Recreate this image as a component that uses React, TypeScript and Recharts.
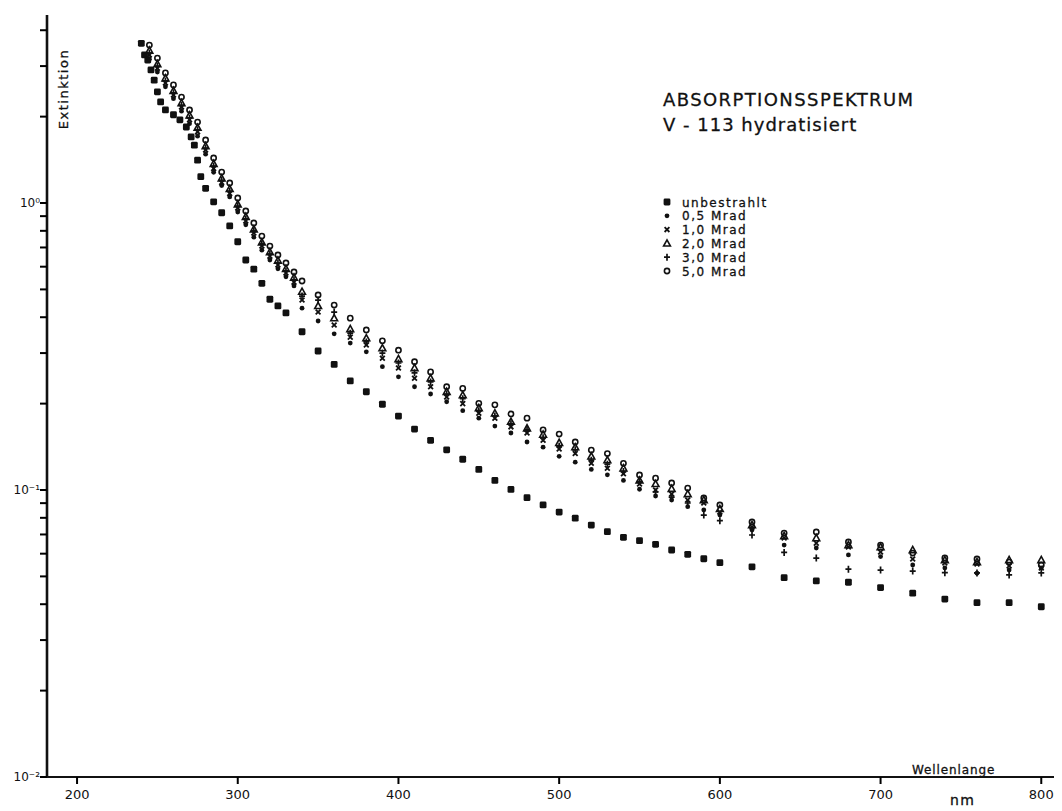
import React from 'react';
import { ScatterChart, Scatter, XAxis, YAxis } from 'recharts';

// Wellenlängen (nm)
const WL_UNBESTRAHLT = [
  240, 242, 244, 246, 248, 250, 252, 255, 260, 264, 268, 271, 273, 275, 277, 280, 285, 290, 295, 300,
  305, 310, 315, 320, 325, 330, 340, 350, 360, 370, 380, 390, 400, 410, 420, 430, 440, 450, 460, 470,
  480, 490, 500, 510, 520, 530, 540, 550, 560, 570, 580, 590, 600, 620, 640, 660, 680, 700, 720, 740,
  760, 780, 800,
];
const WL_BESTRAHLT = [
  245, 250, 255, 260, 265, 270, 275, 280, 285, 290, 295, 300, 305, 310, 315, 320, 325, 330, 335,
  340, 350, 360, 370, 380, 390, 400, 410, 420, 430, 440, 450, 460, 470, 480, 490, 500, 510, 520, 530,
  540, 550, 560, 570, 580, 590, 600, 620, 640, 660, 680, 700, 720, 740, 760, 780, 800,
];

// Extinktion
const UNBESTRAHLT = [
  3.6, 3.28, 3.15, 2.91, 2.68, 2.44, 2.25, 2.11, 2.03, 1.95, 1.84, 1.7, 1.59, 1.41, 1.235, 1.125, 1.01,
  0.925, 0.832, 0.733, 0.633, 0.588, 0.525, 0.462, 0.438, 0.414, 0.356, 0.305, 0.274, 0.24, 0.22,
  0.199, 0.181, 0.163, 0.149, 0.138, 0.128, 0.118, 0.108, 0.1005, 0.094, 0.0887, 0.0838, 0.0798,
  0.0755, 0.0716, 0.0684, 0.0666, 0.0647, 0.0618, 0.0597, 0.0576, 0.0558, 0.054, 0.0495, 0.0482,
  0.0477, 0.0457, 0.0437, 0.0417, 0.0405, 0.0405, 0.0392,
];
const MRAD_05 = [
  3.17, 2.86, 2.54, 2.31, 2.09, 1.89, 1.71, 1.48, 1.28, 1.15, 1.05, 0.93, 0.84, 0.76, 0.685, 0.633,
  0.59, 0.553, 0.514, 0.43, 0.388, 0.35, 0.325, 0.303, 0.269, 0.248, 0.229, 0.216, 0.203, 0.189,
  0.178, 0.167, 0.158, 0.147, 0.141, 0.131, 0.125, 0.118, 0.113, 0.108, 0.1006, 0.0953, 0.0923,
  0.0875, 0.0852, 0.0818, 0.0726, 0.0643, 0.0628, 0.0594, 0.0586, 0.0548, 0.0535, 0.0513, 0.0526,
  0.0535,
];
const MRAD_10 = [
  3.28, 2.95, 2.62, 2.38, 2.16, 1.95, 1.77, 1.53, 1.32, 1.18, 1.08, 0.96, 0.866, 0.786, 0.708, 0.653,
  0.608, 0.57, 0.53, 0.459, 0.417, 0.376, 0.341, 0.32, 0.288, 0.266, 0.245, 0.229, 0.211, 0.2, 0.185,
  0.178, 0.166, 0.158, 0.149, 0.139, 0.134, 0.124, 0.119, 0.114, 0.105, 0.1, 0.0968, 0.0923, 0.0901,
  0.0838, 0.0743, 0.068, 0.0653, 0.0633, 0.0608, 0.0575, 0.0557, 0.0552, 0.0544, 0.0535,
];
const MRAD_20 = [
  3.4, 3.05, 2.72, 2.46, 2.23, 2.02, 1.83, 1.58, 1.37, 1.22, 1.12, 0.99, 0.895, 0.81, 0.73, 0.675,
  0.63, 0.59, 0.55, 0.491, 0.438, 0.397, 0.364, 0.338, 0.312, 0.286, 0.266, 0.245, 0.22, 0.214,
  0.193, 0.185, 0.173, 0.164, 0.156, 0.146, 0.141, 0.131, 0.127, 0.119, 0.108, 0.105, 0.101, 0.0968,
  0.0923, 0.0859, 0.0755, 0.0691, 0.068, 0.0643, 0.0633, 0.0618, 0.057, 0.0561, 0.057, 0.057,
];
const MRAD_30 = [
  3.33, 3.0, 2.66, 2.42, 2.19, 1.98, 1.8, 1.555, 1.345, 1.2, 1.1, 0.976, 0.88, 0.8, 0.72, 0.664,
  0.618, 0.58, 0.54, 0.474, 0.459, 0.417, 0.352, 0.328, 0.3, 0.277, 0.256, 0.238, 0.216, 0.208,
  0.189, 0.181, 0.17, 0.162, 0.152, 0.142, 0.138, 0.127, 0.123, 0.116, 0.107, 0.0984, 0.0945, 0.0901,
  0.0818, 0.0782, 0.0697, 0.0606, 0.0579, 0.053, 0.0526, 0.0522, 0.0515, 0.0514, 0.0506, 0.0514,
];
const MRAD_50 = [
  3.55, 3.2, 2.84, 2.58, 2.34, 2.11, 1.915, 1.658, 1.435, 1.282, 1.174, 1.041, 0.938, 0.852, 0.767,
  0.708, 0.659, 0.618, 0.575, 0.535, 0.478, 0.441, 0.397, 0.361, 0.331, 0.307, 0.28, 0.258, 0.229,
  0.226, 0.2005, 0.198, 0.184, 0.178, 0.162, 0.1567, 0.147, 0.1378, 0.134, 0.1239, 0.1128, 0.11,
  0.1058, 0.1016, 0.0938, 0.0887, 0.0774, 0.0708, 0.0714, 0.0659, 0.0643, 0.0603, 0.058, 0.0575,
  0.0561, 0.0548,
];

const X_TICKS = [200, 300, 400, 500, 600, 700, 800];
const Y_TICKS = [
  0.01, 0.02, 0.03, 0.04, 0.05, 0.06, 0.07, 0.08, 0.09,
  0.1, 0.2, 0.3, 0.4, 0.5, 0.6, 0.7, 0.8, 0.9,
  1, 2, 3, 4,
];
const DECADE_LABELS: Record<string, string> = { '-2': '10⁻²', '-1': '10⁻¹', '0': '10⁰' };

const FONT = "'DejaVu Sans', sans-serif";
const INK = '#111';

const toPoints = (xs: number[], ys: number[]) => xs.map((x, i) => ({ x, y: ys[i] }));

const decadeLabel = (v: number) => {
  const exp = Math.round(Math.log10(v));
  if (Math.abs(Math.log10(v) - exp) > 1e-6) return '';
  return DECADE_LABELS[String(exp)] ?? '';
};

type P = { cx?: number; cy?: number };

const Square = ({ cx = 0, cy = 0 }: P) => (
  <rect x={cx - 3.4} y={cy - 3.4} width={6.8} height={6.8} rx={1.4} fill={INK} />
);
const Dot = ({ cx = 0, cy = 0 }: P) => <circle cx={cx} cy={cy} r={2.4} fill={INK} />;
const Cross = ({ cx = 0, cy = 0 }: P) => (
  <path
    d={`M${cx - 2.4},${cy - 2.4}L${cx + 2.4},${cy + 2.4}M${cx + 2.4},${cy - 2.4}L${cx - 2.4},${cy + 2.4}`}
    stroke={INK}
    strokeWidth={1.8}
    fill="none"
  />
);
const Triangle = ({ cx = 0, cy = 0 }: P) => (
  <path
    d={`M${cx},${cy - 3.6}L${cx + 3.4},${cy + 2.6}L${cx - 3.4},${cy + 2.6}Z`}
    stroke={INK}
    strokeWidth={1.6}
    fill="none"
  />
);
const Plus = ({ cx = 0, cy = 0 }: P) => (
  <path
    d={`M${cx - 3},${cy}L${cx + 3},${cy}M${cx},${cy - 3.5}L${cx},${cy + 3.5}`}
    stroke={INK}
    strokeWidth={1.7}
    fill="none"
  />
);
const Ring = ({ cx = 0, cy = 0 }: P) => (
  <circle cx={cx} cy={cy} r={2.6} stroke={INK} strokeWidth={1.6} fill="none" />
);

const SERIES = [
  { name: 'unbestrahlt', wl: WL_UNBESTRAHLT, values: UNBESTRAHLT, Shape: Square },
  { name: '0,5 Mrad', wl: WL_BESTRAHLT, values: MRAD_05, Shape: Dot },
  { name: '1,0 Mrad', wl: WL_BESTRAHLT, values: MRAD_10, Shape: Cross },
  { name: '2,0 Mrad', wl: WL_BESTRAHLT, values: MRAD_20, Shape: Triangle },
  { name: '3,0 Mrad', wl: WL_BESTRAHLT, values: MRAD_30, Shape: Plus },
  { name: '5,0 Mrad', wl: WL_BESTRAHLT, values: MRAD_50, Shape: Ring },
];

export default function App() {
  return (
    <div style={{ position: 'relative', width: 1054, height: 803, background: '#fff' }}>
      <ScatterChart width={1054} height={803} margin={{ top: 7, right: 0, bottom: 0, left: 0 }}>
        <XAxis
          type="number"
          dataKey="x"
          domain={[181.3, 812.9]}
          allowDataOverflow
          ticks={X_TICKS}
          interval={0}
          height={34}
          tickSize={7}
          tickMargin={6}
          tickLine={{ stroke: '#000', strokeWidth: 2 }}
          axisLine={{ stroke: INK, strokeWidth: 2.2 }}
          tick={{ fill: INK, fontSize: 13, fontFamily: FONT }}
        />
        <YAxis
          type="number"
          dataKey="y"
          scale="log"
          domain={[0.01, 4.52]}
          allowDataOverflow
          ticks={Y_TICKS}
          interval={0}
          width={39}
          tickSize={7}
          tickMargin={0}
          tickLine={{ stroke: '#000', strokeWidth: 2 }}
          axisLine={{ stroke: INK, strokeWidth: 2.6 }}
          tick={{ fill: INK, fontSize: 12, fontFamily: FONT }}
          tickFormatter={decadeLabel}
        />
        {SERIES.map((s) => (
          <Scatter
            key={s.name}
            name={s.name}
            data={toPoints(s.wl, s.values)}
            shape={(props: any) => <s.Shape cx={props.cx} cy={props.cy} />}
            isAnimationActive={false}
          />
        ))}
      </ScatterChart>
      <svg
        width={1062}
        height={811}
        style={{ position: 'absolute', left: -8, top: -8, pointerEvents: 'none' }}
      >
        <g fontFamily={FONT} fill={INK} stroke={INK} strokeWidth={0.3}>
          <text x={663} y={106} fontSize={18} letterSpacing={1.4}>
            ABSORPTIONSSPEKTRUM
          </text>
          <text x={663} y={131} fontSize={18} letterSpacing={1}>
            V - 113 hydratisiert
          </text>
          <text transform="translate(68,89) rotate(-90)" textAnchor="middle" fontSize={13} letterSpacing={1.5}>
            Extinktion
          </text>
          <text x={912} y={774} fontSize={12} letterSpacing={0.9}>
            Wellenlange
          </text>
          <text x={950} y={805} fontSize={14} letterSpacing={1.5}>
            nm
          </text>
        </g>
        <g fontFamily={FONT} fill={INK}>
          {SERIES.map((s, i) => {
            const cy = 202 + i * 13.8;
            return (
              <g key={s.name}>
                <s.Shape cx={667} cy={cy} />
                <text x={682} y={cy + 4.5} fontSize={12} letterSpacing={1.5} stroke={INK} strokeWidth={0.3}>
                  {s.name}
                </text>
              </g>
            );
          })}
        </g>
      </svg>
    </div>
  );
}
